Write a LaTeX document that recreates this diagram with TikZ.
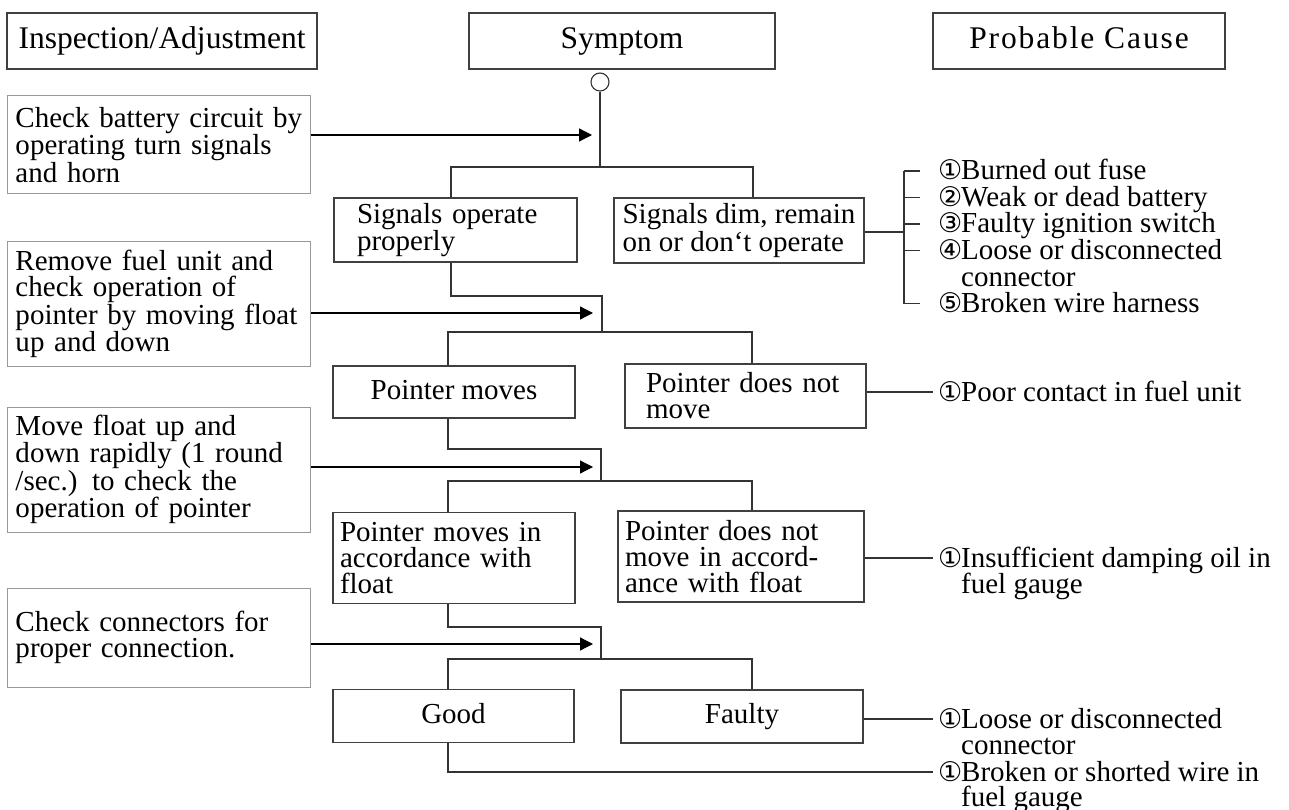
\documentclass[tikz,border=0pt]{standalone}
\usepackage{fontspec}
\setmainfont{Liberation Serif}
\newfontfamily\circfont{DejaVu Sans}
\usetikzlibrary{positioning,arrows.meta}
\newcommand\circd[1]{\makebox[23pt][l]{\circfont\fontsize{27}{27}\selectfont #1}}
\tikzset{
  >=Stealth,
  hdr/.style={draw=black!75, line width=1.2pt, minimum height=56, inner sep=0pt,
    text height=22, text depth=7, font=\fontsize{31.5}{30}\selectfont},
  sym/.style={draw=black!75, line width=1.2pt, align=left, inner ysep=0pt},
  mid/.style={sym, align=center, text height=20, text depth=6},
  insp/.style={draw=black!40, line width=1pt, align=left, anchor=west,
    inner xsep=8, text width=287, inner ysep=0pt},
  wire/.style={draw=black!80, line width=1.1pt},
  feed/.style={-{Triangle[length=13pt,width=13pt]}, line width=1.2pt},
  cause/.style={anchor=west, inner sep=0pt, text height=22, text depth=4},
}

\begin{document}
\begin{tikzpicture}[
  x=1pt, y=-1pt,
  every node/.style={font=\fontsize{29}{26}\selectfont}
]
\useasboundingbox (0,0) rectangle (1289,810);

% column heads
\node[hdr, minimum width=310] (hInsp) at (162,41) {Inspection/Adjustment};
\node[hdr, minimum width=306] (hSym) at (622,41) {Symptom};
\node[hdr, minimum width=292] (hCause) at (1079,41) {\addfontfeature{LetterSpace=6}Probable Cause};

% inspection steps
\node[insp, minimum height=98] (i1) at (7,145) {Check battery circuit by\\operating turn signals\\and horn};
\node[insp, minimum height=124] (i2) at (7,304) {Remove fuel unit and\\check operation of\\pointer by moving float\\up and down};
\node[insp, minimum height=125] (i3) at (7,469.5) {Move float up and\\down rapidly (1 round\\/sec.) to check the\\operation of pointer};
\node[insp, minimum height=99] (i4) at (7,637.5) {Check connectors for\\proper connection.};

% symptoms
\node[sym, minimum height=64, inner xsep=23, text width=197] (s1l) at (455.5,230) {Signals operate\\properly};
\node[sym, minimum height=65, minimum width=250] (s1r) at (739,230.5) {Signals dim, remain\\on or don‘t operate};
\node[mid, minimum height=52, minimum width=242] (s2l) at (454,392) {Pointer moves};
\node[sym, minimum height=64, inner xsep=21, text width=199] (s2r) at (745.5,396) {Pointer does not\\move};
\node[sym, minimum height=91, inner xsep=7, text width=228] (s3l) at (454,558) {Pointer moves in\\accordance with\\float};
\node[sym, minimum height=91, inner xsep=7, text width=232] (s3r) at (741,556.5) {Pointer does not\\move in accord-\\ance with float};
\node[mid, minimum height=53, minimum width=241] (s4l) at (453.5,716) {Good};
\node[mid, minimum height=53, minimum width=242] (s4r) at (742,716.5) {Faulty};

% causes
\node[cause] (c1) at (938,171) {\circd{①}Burned out fuse};
\node[cause] (c2) at (938,197.5) {\circd{②}Weak or dead battery};
\node[cause] (c3) at (938,224) {\circd{③}Faulty ignition switch};
\node[cause] (c4) at (938,250.5) {\circd{④}Loose or disconnected};
\node[cause] (c4b) at (961,277) {connector};
\node[cause] (c5) at (938,303.5) {\circd{⑤}Broken wire harness};
\node[cause] (p1) at (938,392) {\circd{①}Poor contact in fuel unit};
\node[cause] (d1) at (938,558) {\circd{①}Insufficient damping oil in};
\node[cause] (d1b) at (961,584) {fuel gauge};
\node[cause] (f1) at (938,719) {\circd{①}Loose or disconnected};
\node[cause] (f1b) at (961,745) {connector};
\node[cause] (g1) at (938,772) {\circd{①}Broken or shorted wire in};
\node[cause] (g1b) at (961,797) {fuel gauge};

% junctions
\node[draw=black!80, line width=1.1pt, circle, minimum size=18, inner sep=0pt] (start) at (600,82) {};
\coordinate (d1l) at (451,167);
\coordinate (d1r) at (753,167);
\coordinate (t1) at (602,296);
\coordinate (d2l) at (448,332);
\coordinate (d2r) at (752,332);
\coordinate (t2) at (601,449);
\coordinate (d3l) at (448,481);
\coordinate (d3r) at (752,481);
\coordinate (t3) at (601,627);
\coordinate (d4l) at (448,659);
\coordinate (d4r) at (752,659);
\coordinate (bus) at (904,232);

% tree
\draw[wire] (start) -- (start |- d1l);
\draw[wire] (s1l.north -| d1l) -- (d1l) -- (d1r) -- (s1r.north -| d1r);
\draw[wire] (s1l.south -| d1l) |- (t1) -- (t1 |- d2l);
\draw[wire] (s2l.north -| d2l) -- (d2l) -- (d2r) -- (s2r.north -| d2r);
\draw[wire] (s2l.south -| d2l) |- (t2) -- (t2 |- d3l);
\draw[wire] (s3l.north -| d3l) -- (d3l) -- (d3r) -- (s3r.north -| d3r);
\draw[wire] (s3l.south -| d3l) |- (t3) -- (t3 |- d4l);
\draw[wire] (s4l.north -| d4l) -- (d4l) -- (d4r) -- (s4r.north -| d4r);

% checks
\draw[feed] (i1.east |- 0,135) -- (592,135);
\draw[feed] (i2.east |- 0,313) -- (593,313);
\draw[feed] (i3.east |- 0,467) -- (593,467);
\draw[feed] (i4.east |- 0,644) -- (593,644);

% to causes
\draw[wire] (s1r.east |- bus) -- (bus);
\draw[wire] (bus |- c1) -- (bus |- c5);
\foreach \c in {c1,c2,c3,c4,c5}
  \draw[wire] (bus |- \c) -- ([xshift=-18pt]\c.west);
\draw[wire] (s2r.east |- p1) -- ([xshift=-5pt]p1.west);
\draw[wire] (s3r.east |- d1) -- ([xshift=-5pt]d1.west);
\draw[wire] (s4r.east |- f1) -- ([xshift=-5pt]f1.west);
\draw[wire] (s4l.south -| d4l) |- ([xshift=-5pt]g1.west);

\end{tikzpicture}
\end{document}
